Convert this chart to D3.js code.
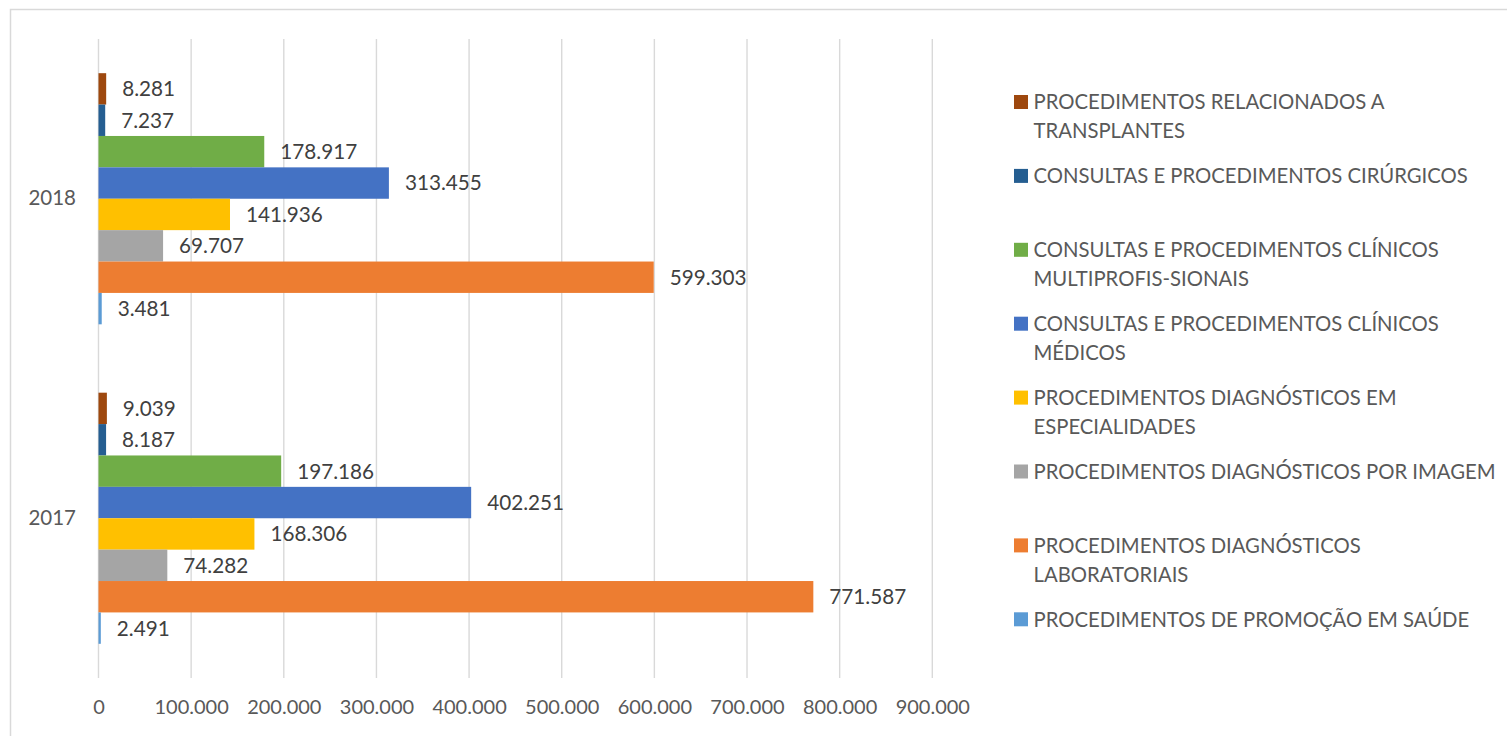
<!DOCTYPE html>
<html>
<head>
<meta charset="utf-8">
<script src="https://cdn.jsdelivr.net/npm/d3@7"></script>
<style>
body { margin: 0; background: #fff; }
svg { display: block; font-family: Lato, "Open Sans", sans-serif; }
</style>
</head>
<body>
<svg id="chart" width="1507" height="736"></svg>
<script>
// years, top to bottom
var years = ["2018", "2017"]

// series, top to bottom within each year (same order as the legend)
var series = [
  "PROCEDIMENTOS RELACIONADOS A TRANSPLANTES",
  "CONSULTAS E PROCEDIMENTOS CIRÚRGICOS",
  "CONSULTAS E PROCEDIMENTOS CLÍNICOS MULTIPROFIS-SIONAIS",
  "CONSULTAS E PROCEDIMENTOS CLÍNICOS MÉDICOS",
  "PROCEDIMENTOS DIAGNÓSTICOS EM ESPECIALIDADES",
  "PROCEDIMENTOS DIAGNÓSTICOS POR IMAGEM",
  "PROCEDIMENTOS DIAGNÓSTICOS LABORATORIAIS",
  "PROCEDIMENTOS DE PROMOÇÃO EM SAÚDE"
]

// legend text split into lines
var legendLines = [
  ["PROCEDIMENTOS RELACIONADOS A", "TRANSPLANTES"],
  ["CONSULTAS E PROCEDIMENTOS CIRÚRGICOS"],
  ["CONSULTAS E PROCEDIMENTOS CLÍNICOS", "MULTIPROFIS-SIONAIS"],
  ["CONSULTAS E PROCEDIMENTOS CLÍNICOS", "MÉDICOS"],
  ["PROCEDIMENTOS DIAGNÓSTICOS EM", "ESPECIALIDADES"],
  ["PROCEDIMENTOS DIAGNÓSTICOS POR IMAGEM"],
  ["PROCEDIMENTOS DIAGNÓSTICOS", "LABORATORIAIS"],
  ["PROCEDIMENTOS DE PROMOÇÃO EM SAÚDE"]
]

var colors = ["#9E480E", "#255E91", "#70AD47", "#4472C4", "#FFC000", "#A5A5A5", "#ED7D31", "#5B9BD5"]

var values2018 = [8281, 7237, 178917, 313455, 141936, 69707, 599303, 3481]
var values2017 = [9039, 8187, 197186, 402251, 168306, 74282, 771587, 2491]

var xTicks = [0, 100000, 200000, 300000, 400000, 500000, 600000, 700000, 800000, 900000]

var byYear = { "2018": values2018, "2017": values2017 }

var locale = d3.formatLocale({ decimal: ",", thousands: ".", grouping: [3], currency: ["R$", ""] })
var fmt = locale.format(",d")

var svg = d3.select("#chart")

// outer chart border
svg.append("rect")
  .attr("x", 10.5).attr("y", 9.5)
  .attr("width", 1600).attr("height", 800)
  .attr("fill", "none")
  .attr("stroke", "#d9d9d9")
  .attr("stroke-width", 1.5)

var plotTop = 39, plotBottom = 678

var x = d3.scaleLinear().domain([0, 900000]).range([98.5, 932.3])

var y = d3.scaleBand().domain(years).range([plotTop, plotBottom])
  .paddingInner(0.214).paddingOuter(0.107)

var ySub = d3.scaleBand().domain(series).range([0, y.bandwidth()])

// gridlines
svg.append("g")
  .selectAll("line")
  .data(xTicks)
  .enter().append("line")
  .attr("x1", d => x(d)).attr("x2", d => x(d))
  .attr("y1", plotTop).attr("y2", plotBottom)
  .attr("stroke", "#d9d9d9")
  .attr("stroke-width", 1.4)

// x axis labels
var xAxis = d3.axisBottom(x).tickValues(xTicks).tickFormat(fmt).tickSize(0).tickPadding(0)
var gx = svg.append("g").attr("transform", "translate(0,700)").call(xAxis)
gx.select(".domain").remove()
gx.selectAll("text")
  .attr("font-size", 20)
  .attr("font-family", "Lato, sans-serif")
  .attr("fill", "#595959")

// year labels
var yAxis = d3.axisLeft(y).tickSize(0).tickPadding(0)
var gy = svg.append("g").attr("transform", "translate(76,0)").call(yAxis)
gy.select(".domain").remove()
gy.selectAll("text")
  .attr("font-size", 20.5)
  .attr("font-family", "Lato, sans-serif")
  .attr("fill", "#595959")

// bars
var groups = svg.append("g")
  .selectAll("g")
  .data(years)
  .enter().append("g")
  .attr("transform", d => "translate(0," + y(d) + ")")

var cells = groups.selectAll("g")
  .data(yr => series.map((s, i) => ({ year: yr, s: s, i: i, v: byYear[yr][i] })))
  .enter().append("g")

cells.append("rect")
  .attr("x", x(0))
  .attr("y", d => ySub(d.s))
  .attr("width", d => x(d.v) - x(0))
  .attr("height", ySub.bandwidth())
  .attr("fill", d => colors[d.i])

cells.append("text")
  .attr("x", d => x(d.v) + 16)
  .attr("y", d => ySub(d.s) + ySub.bandwidth() / 2)
  .attr("dy", "0.36em")
  .attr("font-size", 20.7)
  .attr("fill", "#404040")
  .text(d => fmt(d.v))

// legend
var legend = svg.append("g")
  .selectAll("g")
  .data(series)
  .enter().append("g")
  .attr("transform", (d, i) => "translate(1014," + (102 + i * 73.9) + ")")

legend.append("rect")
  .attr("x", 0).attr("y", -7)
  .attr("width", 14).attr("height", 14)
  .attr("fill", (d, i) => colors[i])

legend.append("text")
  .attr("font-size", 20.3)
  .attr("fill", "#595959")
  .selectAll("tspan")
  .data((d, i) => legendLines[i])
  .enter().append("tspan")
  .attr("x", 19.5)
  .attr("y", (d, j) => j * 29)
  .attr("dy", "0.36em")
  .text(d => d)
</script>
</body>
</html>
